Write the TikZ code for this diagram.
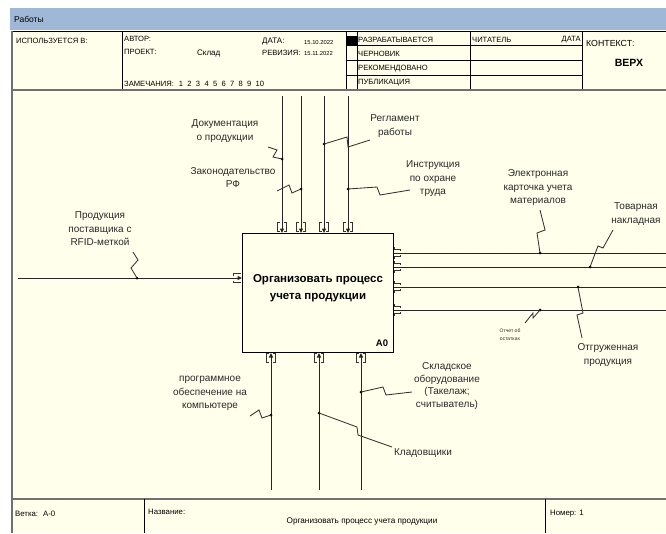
\documentclass[tikz,border=0pt]{standalone}
\usepackage{fontspec}
\setmainfont{Liberation Sans}
\usetikzlibrary{arrows.meta}
\definecolor{cream}{HTML}{FFFFEC}
\definecolor{barblue}{HTML}{A0B8D8}
\definecolor{framegray}{HTML}{707070}
\definecolor{labelgray}{HTML}{2A2A2A}
\tikzset{
  hdr/.style={font=\fontsize{7.6}{9}\selectfont, anchor=west, inner sep=0},
  hdrs/.style={font=\fontsize{5.8}{7}\selectfont, anchor=west, inner sep=0},
  ftr/.style={font=\fontsize{7.8}{9}\selectfont, anchor=west, inner sep=0},
  lbl/.style={font=\fontsize{10}{13.5}\selectfont, align=center, text=labelgray, inner sep=0},
  flow/.style={draw=black!85, line width=1pt},
  arr/.style={flow, -{Triangle[length=4.5pt,width=4pt]}},
  squig/.style={draw=black!80, line width=0.85pt},
  dotn/.style={circle, fill=black, inner sep=0, minimum size=3pt},
  brk/.style={draw=black!80, line width=0.6pt},
  gridl/.style={draw=black, line width=0.7pt},
  framel/.style={draw=framegray, line width=1.5pt}
}
\begin{document}
\begin{tikzpicture}[x=1pt,y=-1pt]
\useasboundingbox (0,0) rectangle (666,533);
\fill[white] (0,0) rectangle (666,533);
\fill[cream] (12,31) rectangle (666,533);
\fill[barblue] (10,8) rectangle (666,30);
\node[hdr, font=\fontsize{8.5}{10}\selectfont] (bar) at (14,19) {Работы};

% header grid
\draw[gridl] (12,31) -- (666,31);
\draw[gridl] (122,31) -- (122,90);
\draw[gridl] (346,31) -- (346,90);
\draw[gridl] (357,31) -- (357,90);
\draw[gridl] (470,31) -- (470,90);
\draw[gridl] (582,31) -- (582,90);
\draw[gridl] (346,45.7) -- (582,45.7);
\draw[gridl] (346,60) -- (582,60);
\draw[gridl] (346,75) -- (582,75);
\fill[black] (346.5,35.5) rectangle (357,45.7);

\node[hdr] (uses) at (16,41) {ИСПОЛЬЗУЕТСЯ В:};
\node[hdr] (author) at (124,39) {АВТОР:};
\node[hdr] (proj) at (124,51.5) {ПРОЕКТ:};
\node[hdr, font=\fontsize{8}{9}\selectfont] (sklad) at (197,54) {Склад};
\node[hdr, font=\fontsize{8}{9}\selectfont] (date) at (262,42) {ДАТА:};
\node[hdr] (rev) at (262,53) {РЕВИЗИЯ:};
\node[hdrs] (d1t) at (304,43) {15.10.2022};
\node[hdrs] (d2t) at (304,53.5) {15.11.2022};
\node[hdr] (notes) at (124,84) {ЗАМЕЧАНИЯ:\hspace{5pt}1\hspace{4.3pt}2\hspace{4.3pt}3\hspace{4.3pt}4\hspace{4.3pt}5\hspace{4.3pt}6\hspace{4.3pt}7\hspace{4.3pt}8\hspace{4.3pt}9\hspace{4.3pt}10};
\node[hdr] (st1) at (358,40) {РАЗРАБАТЫВАЕТСЯ};
\node[hdr] (st2) at (358,54) {ЧЕРНОВИК};
\node[hdr] (st3) at (358,68.5) {РЕКОМЕНДОВАНО};
\node[hdr] (st4) at (358,83) {ПУБЛИКАЦИЯ};
\node[hdr] (reader) at (472,40) {ЧИТАТЕЛЬ};
\node[hdr, anchor=east] (rdate) at (581,40) {ДАТА};
\node[hdr, font=\fontsize{8.8}{10}\selectfont] (ctx) at (586,43) {КОНТЕКСТ:};
\node[font=\bfseries\fontsize{10.5}{12}\selectfont, inner sep=0] (top) at (629,63) {ВЕРХ};

% frame
\draw[framel] (12,31) -- (12,533);
\draw[framel] (12,90) -- (666,90);
\draw[framel] (12,499) -- (666,499);
\draw[gridl] (144,499) -- (144,533);
\draw[gridl] (545,499) -- (545,533);
\node[ftr] (branch) at (15,514) {Ветка:\hspace{5pt}A-0};
\node[ftr] (name) at (148,512) {Название:};
\node[font=\fontsize{8.2}{9}\selectfont, inner sep=0] (ftitle) at (362,521) {Организовать процесс учета продукции};
\node[ftr] (num) at (550,514) {Номер:\hspace{3pt}1};

% activity box
\node[draw=black, line width=1pt, fill=cream, minimum width=151pt, minimum height=119pt, inner sep=0, anchor=north west] (A0) at (242,233) {};
\node[font=\bfseries\fontsize{11.5}{17}\selectfont, align=center, inner sep=0] (A0t) at (318,288) {Организовать процесс\\учета продукции};
\node[font=\bfseries\fontsize{9.5}{10}\selectfont, inner sep=0] (A0n) at (382,343) {A0};

% controls (top)
\coordinate (t1) at (282,96);
\coordinate (t2) at (301,96);
\coordinate (t3) at (324,96);
\coordinate (t4) at (348,96);
\foreach \c in {t1,t2,t3,t4} { \draw[arr] (\c) -- (\c |- A0.north); }
\foreach \x in {282,301,324,348} {
  \draw[brk] (\x-2.3,222.5) -- (\x-4.5,222.5) -- (\x-4.5,231.5) -- (\x-2.3,231.5);
  \draw[brk] (\x+2.3,222.5) -- (\x+4.5,222.5) -- (\x+4.5,231.5) -- (\x+2.3,231.5);
}

% mechanisms (bottom)
\coordinate (b1) at (271,490);
\coordinate (b2) at (319,490);
\coordinate (b3) at (361,490);
\foreach \c in {b1,b2,b3} { \draw[arr] (\c) -- (\c |- A0.south); }
\foreach \x in {271,319,361} {
  \draw[brk] (\x-2.3,353.5) -- (\x-4.5,353.5) -- (\x-4.5,362.5) -- (\x-2.3,362.5);
  \draw[brk] (\x+2.3,353.5) -- (\x+4.5,353.5) -- (\x+4.5,362.5) -- (\x+2.3,362.5);
}

% input
\coordinate (i1) at (18,278);
\draw[arr] (i1) -- (i1 -| A0.west);
\draw[brk] (233,275.5) -- (233,273.5) -- (241,273.5);
\draw[brk] (233,280.5) -- (233,282.5) -- (241,282.5);

% outputs
\coordinate (o1) at (666,253);
\coordinate (o2) at (666,267);
\coordinate (o3) at (666,287);
\coordinate (o4) at (666,310);
\foreach \c in {o1,o2,o3,o4} { \draw[flow] (A0.east |- \c) -- (\c); }
\foreach \y in {253,267,287,310} {
  \draw[brk] (394,\y-3.5) -- (400,\y-3.5) -- (400,\y-1.8);
  \draw[brk] (394,\y+3.5) -- (400,\y+3.5) -- (400,\y+1.8);
  \draw[brk] (394,\y-6) -- (394,\y-3.5);
  \draw[brk] (394,\y+6) -- (394,\y+3.5);
}

% dots
\node[dotn] (d1) at (282,159) {};
\node[dotn] (d2) at (301,189) {};
\node[dotn] (d3) at (324,144) {};
\node[dotn] (d4) at (348,189) {};
\node[dotn] (d5) at (137,278) {};
\node[dotn] (d6) at (540,253) {};
\node[dotn] (d7) at (590,267) {};
\node[dotn] (d8) at (578,287) {};
\node[dotn] (d9) at (540,310) {};
\node[dotn] (d10) at (271,415) {};
\node[dotn] (d11) at (361,392) {};
\node[dotn] (d12) at (319,413) {};

% labels
\node[lbl] (L1) at (225,131) {Документация\\о продукции};
\node[lbl] (L2) at (233,177.5) {Законодательство\\РФ};
\node[lbl] (L3) at (395,126) {Регламент\\работы};
\node[lbl] (L4) at (433,179) {Инструкция\\по охране\\труда};
\node[lbl] (L5) at (100,229) {Продукция\\поставщика с\\RFID-меткой};
\node[lbl] (L6) at (538,188) {Электронная\\карточка учета\\материалов};
\node[lbl] (L7) at (636,214) {Товарная\\накладная};
\node[lbl] (L8) at (608,355) {Отгруженная\\продукция};
\node[lbl, font=\fontsize{5}{8.5}\selectfont] (L9) at (510,334.5) {Отчет об\\остатках};
\node[lbl] (L10) at (210,393.5) {программное\\обеспечение на\\компьютере};
\node[lbl, font=\fontsize{10}{12.8}\selectfont] (L11) at (447,386) {Складское\\оборудование\\(Такелаж;\\считыватель)};
\node[lbl] (L12) at (423,453) {Кладовщики};

% squiggles
\coordinate (s1) at (268,147);
\coordinate (s2) at (277,191);
\coordinate (s3) at (370,140);
\coordinate (s4) at (410,190);
\coordinate (s5) at (133,252);
\coordinate (s6) at (540,210);
\coordinate (s7) at (613,230);
\coordinate (s8) at (582,338);
\coordinate (s9) at (525,323);
\coordinate (s10) at (250,416);
\coordinate (s11) at (412,392);
\coordinate (s12) at (392,447);
\draw[squig] (s1) -- (277,150) -- (273,157) -- (d1.center);
\draw[squig] (s2) -- (289,185) -- (292,193) -- (d2.center);
\draw[squig] (d3.center) -- (347,137) -- (348,147) -- (s3);
\draw[squig] (d4.center) -- (377,187) -- (380,195) -- (s4);
\draw[squig] (s5) -- (138,260) -- (131,268) -- (d5.center);
\draw[squig] (s6) -- (545,230) -- (537,233) -- (d6.center);
\draw[squig] (s7) -- (603,248) -- (598,246) -- (d7.center);
\draw[squig] (d8.center) -- (583,313) -- (577,315) -- (s8);
\draw[squig] (s9) -- (533,313) -- (533,318) -- (d9.center);
\draw[squig] (s10) -- (259,410) -- (262,418) -- (d10.center);
\draw[squig] (d11.center) -- (383,387) -- (386,395) -- (s11);
\draw[squig] (d12.center) -- (357,427) -- (358,435) -- (s12);
\end{tikzpicture}
\end{document}
